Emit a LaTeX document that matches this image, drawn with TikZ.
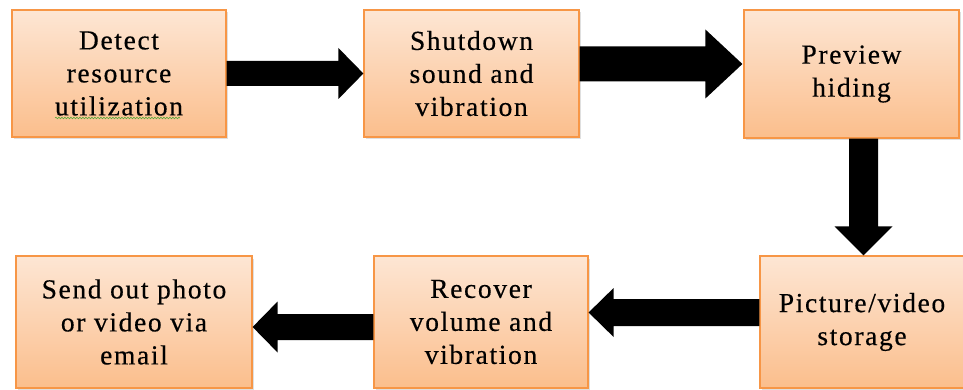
\documentclass[tikz,border=0pt]{standalone}
\usepackage{fontspec}
\setmainfont{Liberation Serif}
\usetikzlibrary{calc,shadows,decorations.pathmorphing}
\definecolor{boxtop}{RGB}{253,230,212}
\definecolor{boxbot}{RGB}{251,190,140}
\definecolor{boxline}{RGB}{247,150,70}
\definecolor{squiggle}{RGB}{90,170,60}
% horizontal block arrow: from, to, shaft half width, head half width, head length
\newcommand\hblock[5]{\fill let \p1=(#1), \p2=(#2), \p3=({\x2-sign(\x2-\x1)*#5},\y1) in
  (\x1,{\y1+#3}) -- (\x3,{\y1+#3}) -- (\x3,{\y1+#4}) -- (\x2,\y1)
  -- (\x3,{\y1-#4}) -- (\x3,{\y1-#3}) -- (\x1,{\y1-#3}) -- cycle;}
% vertical (downward) block arrow
\newcommand\vblock[5]{\fill let \p1=(#1), \p2=(#2) in
  ({\x1+#3},\y1) -- ({\x1+#3},{\y2+#5}) -- ({\x1+#4},{\y2+#5}) -- (\x1,\y2)
  -- ({\x1-#4},{\y2+#5}) -- ({\x1-#3},{\y2+#5}) -- ({\x1-#3},\y1) -- cycle;}
\begin{document}
\begin{tikzpicture}[x=1pt,y=1pt,
  stepbox/.style={draw=boxline, line width=1.2pt, top color=boxtop, bottom color=boxbot,
    drop shadow={shadow xshift=2pt, shadow yshift=-2.5pt, opacity=0.25},
    align=center, inner sep=0pt,
    font=\fontsize{27.5}{33}\selectfont\addfontfeature{LetterSpace=6,FakeBold=0.4}},
]
\useasboundingbox (0,0) rectangle (963,-390);
\node[stepbox, minimum width=214pt, minimum height=127pt] (b1) at (119,-73.5) {Detect\\resource\\utilization};
\node[stepbox, minimum width=215pt, minimum height=127pt] (b2) at (471.5,-73.5) {Shutdown\\sound and\\vibration};
\node[stepbox, minimum width=215pt, minimum height=128pt] (b3) at (851.5,-74) {Preview\\hiding};
\node[stepbox, minimum width=204pt, minimum height=132pt] (b4) at (862,-322) {Picture/video\\storage};
\node[stepbox, minimum width=214pt, minimum height=132pt] (b5) at (481,-322) {Recover\\volume and\\vibration};
\node[stepbox, minimum width=236pt, minimum height=132pt] (b6) at (134,-322) {Send out photo\\or video via\\email};
% spell-check squiggle
\draw[squiggle, line width=0.6pt, decorate, decoration={snake, amplitude=0.8pt, segment length=3pt}] (55,-118) -- (180,-118);
% block arrows
\coordinate (a2s) at ([yshift=9.5pt]b2.east);
\coordinate (a2e) at ([yshift=9.5pt,xshift=-1pt]b3.west);
\coordinate (a3s) at ([xshift=12pt]b3.south);
\coordinate (a3e) at ([xshift=12pt]b3.south |- b4.north);
\coordinate (a4s) at ([yshift=9.5pt]b4.west);
\coordinate (a4e) at ([yshift=9.5pt]b5.east);
\coordinate (a5s) at ([yshift=-5pt]b5.west);
\coordinate (a5e) at ([yshift=-5pt]b6.east);
\hblock{b1.east}{b2.west}{12.5pt}{25.5pt}{25pt}
\hblock{a2s}{a2e}{17.5pt}{34.5pt}{37pt}
\vblock{a3s}{a3e}{14.5pt}{29pt}{29pt}
\hblock{a4s}{a4e}{13.5pt}{24.5pt}{25pt}
\hblock{a5s}{a5e}{13pt}{25.5pt}{25pt}
\end{tikzpicture}
\end{document}
